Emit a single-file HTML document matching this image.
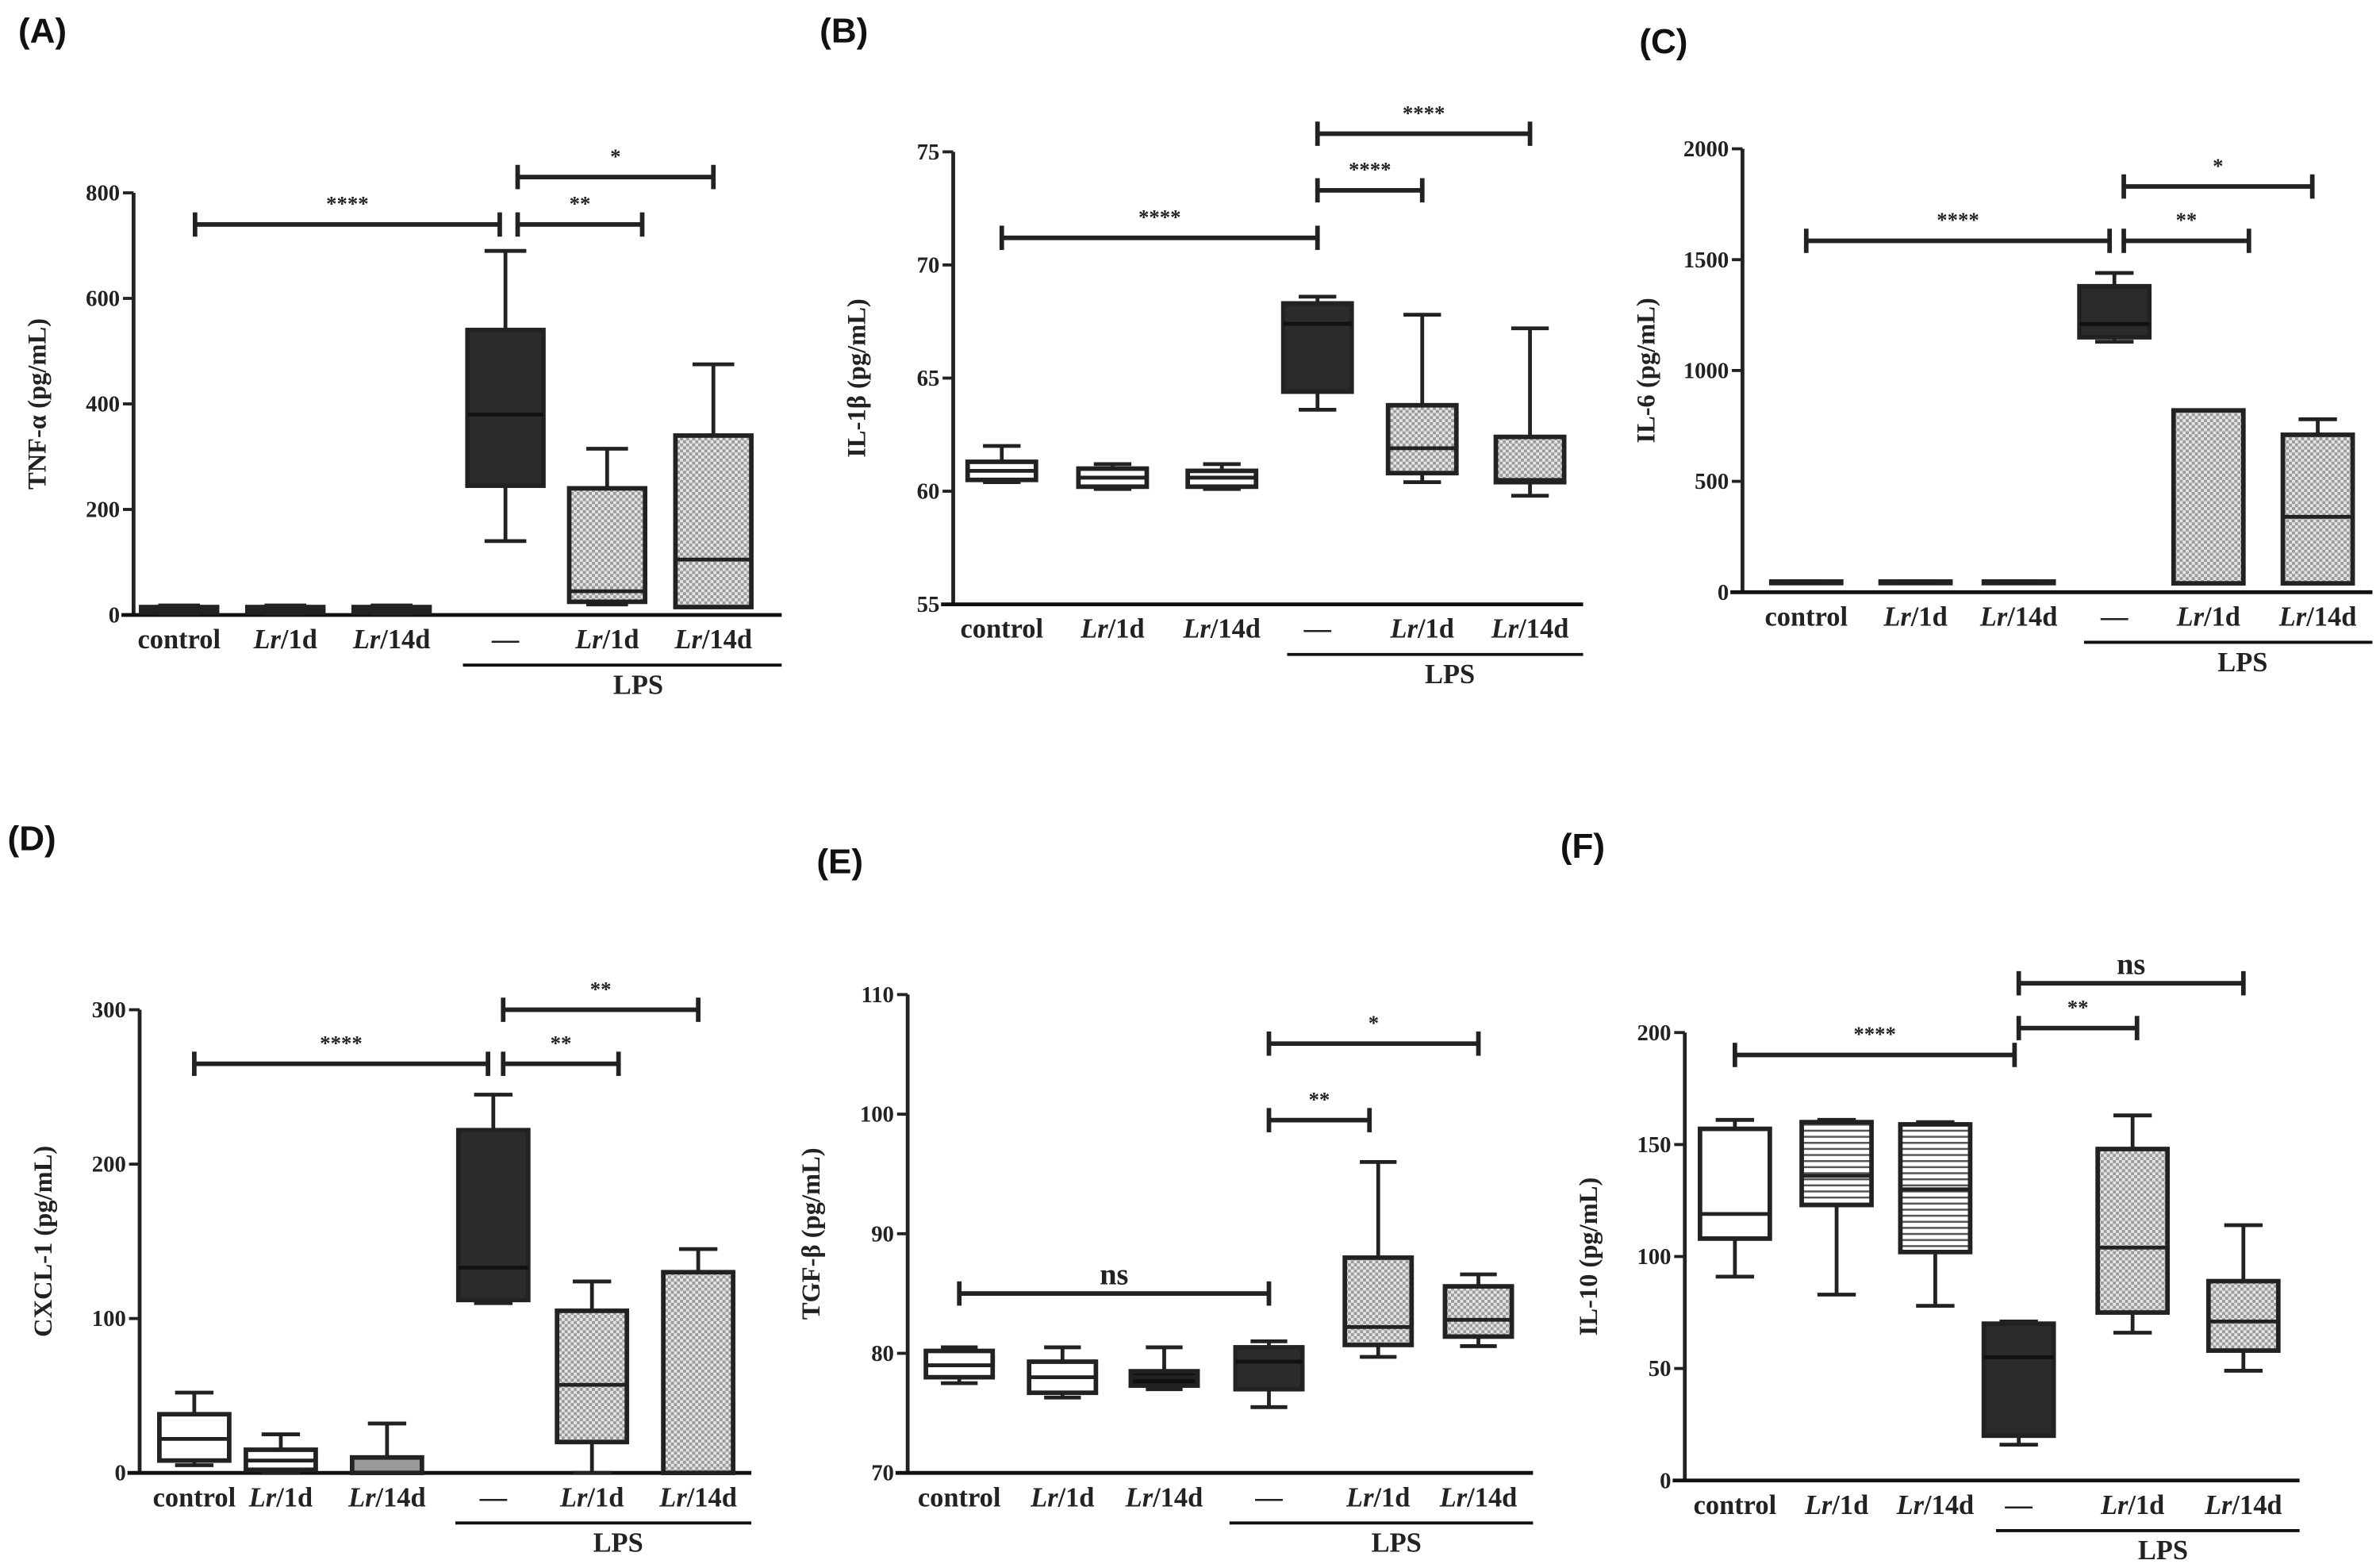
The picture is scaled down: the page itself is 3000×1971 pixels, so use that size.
<!DOCTYPE html>
<html><head><meta charset="utf-8"><style>
html,body{margin:0;padding:0;background:#fff;}
svg{display:block;}
text{font-family:"Liberation Serif",serif;font-weight:bold;fill:#222;}
.pl{font-family:"Liberation Sans",sans-serif;font-size:23px;fill:#111;}
</style></head><body>
<svg id="fig" width="3000" height="1971" viewBox="0 0 1568 1030" preserveAspectRatio="none" xmlns="http://www.w3.org/2000/svg">
<defs>
<pattern id="hatch" width="4" height="4" patternUnits="userSpaceOnUse">
<rect width="4" height="4" fill="#e4e4e4"/><rect width="2" height="2" fill="#9a9a9a"/><rect x="2" y="2" width="2" height="2" fill="#9a9a9a"/>
</pattern>
<pattern id="hlines" width="4" height="4" patternUnits="userSpaceOnUse">
<rect width="4" height="4" fill="#fff"/><rect y="0" width="4" height="1.3" fill="#555"/>
</pattern>
</defs>
</svg>
<script>
const categories = ["control","Lr/1d","Lr/14d","—","Lr/1d","Lr/14d"];
// Panel A TNF-a
const aMin=[3,3,3,140,20,15], aQ1=[5,5,5,245,25,15], aMed=[10,10,10,380,45,105], aQ3=[15,15,15,540,240,340], aMax=[18,18,18,690,315,475];
const aTicks=[0,200,400,600,800];
// Panel B IL-1b
const bMin=[60.4,60.1,60.1,63.6,60.4,59.8], bQ1=[60.5,60.2,60.2,64.4,60.8,60.4], bMed=[60.9,60.6,60.6,67.4,61.9,60.5], bQ3=[61.3,61.0,60.9,68.3,63.8,62.4], bMax=[62.0,61.2,61.2,68.6,67.8,67.2];
const bTicks=[55,60,65,70,75];
// Panel C IL-6
const cMin=[40,40,40,1130,40,40], cQ1=[42,42,42,1150,40,40], cMed=[45,45,45,1210,40,340], cQ3=[48,48,48,1380,820,710], cMax=[50,50,50,1440,820,780];
const cTicks=[0,500,1000,1500,2000];
// Panel D CXCL-1
const dMin=[5,0,0,110,0,0], dQ1=[8,2,0,112,20,0], dMed=[22,8,0,133,57,0], dQ3=[38,15,10,222,105,130], dMax=[52,25,32,245,124,145];
const dTicks=[0,100,200,300];
// Panel E TGF-b
const eMin=[77.5,76.3,77.0,75.5,79.7,80.6], eQ1=[78.0,76.7,77.3,77.0,80.7,81.4], eMed=[79.0,78.0,78.0,79.3,82.2,82.8], eQ3=[80.2,79.3,78.5,80.5,88.0,85.6], eMax=[80.5,80.5,80.5,81.0,96.0,86.6];
const eTicks=[70,80,90,100,110];
// Panel F IL-10
const fMin=[91,83,78,16,66,49], fQ1=[108,123,102,20,75,58], fMed=[119,136,130,55,104,71], fQ3=[157,160,159,70,148,89], fMax=[161,161,160,71,163,114];
const fTicks=[0,50,100,150,200];
// brackets: [fromIndex,toIndex,value,label]
const aBr=[[0.15,2.95,740,"****"],[3.12,4.33,740,"**"],[3.12,5.14,830,"*"]];
const bBr=[[0,3,71.2,"****"],[3,4,73.3,"****"],[3,5,75.8,"****"]];
const cBr=[[0,2.95,1585,"****"],[3.1,4.37,1585,"**"],[3.1,4.95,1830,"*"]];
const dBr=[[0,2.95,265,"****"],[3.1,4.25,265,"**"],[3.1,5.0,300,"**"]];
const eBr=[[0,3,85.0,"ns"],[3,3.92,99.5,"**"],[3,5,105.9,"*"]];
const fBr=[[0,2.95,190,"****"],[3,4.04,202,"**"],[3,5,222,"ns"]];

const panels=[
 {id:"a",letter:"(A)",lx:12,ly:28,title:"TNF-α (pg/mL)",ax:88,ymin:0,ymax:800,y0:405,y1:127,cx:[118,188,258,333,400,470],bw:50,xr:515,lps:[305,515],ticks:aTicks,min:aMin,q1:aQ1,med:aMed,q3:aQ3,max:aMax,br:aBr,fills:["#111","#111","#111","#2b2b2b","url(#hatch)","url(#hatch)"]},
 {id:"b",letter:"(B)",lx:540,ly:28,title:"IL-1β (pg/mL)",ax:628,ymin:55,ymax:75,y0:398,y1:100,cx:[660,733,805,868,937,1008],bw:45,xr:1043,lps:[848,1043],ticks:bTicks,min:bMin,q1:bQ1,med:bMed,q3:bQ3,max:bMax,br:bBr,fills:["#fff","#fff","#fff","#2b2b2b","url(#hatch)","url(#hatch)"]},
 {id:"c",letter:"(C)",lx:1080,ly:35,title:"IL-6 (pg/mL)",ax:1148,ymin:0,ymax:2000,y0:390,y1:98,cx:[1190,1262,1330,1393,1455,1527],bw:46,xr:1563,lps:[1373,1563],ticks:cTicks,min:cMin,q1:cQ1,med:cMed,q3:cQ3,max:cMax,br:cBr,fills:["#888","#888","#888","#2b2b2b","url(#hatch)","url(#hatch)"]},
 {id:"d",letter:"(D)",lx:5,ly:560,title:"CXCL-1 (pg/mL)",ax:92,ymin:0,ymax:300,y0:970,y1:665,cx:[128,185,255,325,390,460],bw:46,xr:495,lps:[300,495],ticks:dTicks,min:dMin,q1:dQ1,med:dMed,q3:dQ3,max:dMax,br:dBr,fills:["#fff","#fff","#999","#2b2b2b","url(#hatch)","url(#hatch)"]},
 {id:"e",letter:"(E)",lx:538,ly:575,title:"TGF-β (pg/mL)",ax:598,ymin:70,ymax:110,y0:970,y1:655,cx:[632,700,767,836,908,974],bw:44,xr:1010,lps:[810,1010],ticks:eTicks,min:eMin,q1:eQ1,med:eMed,q3:eQ3,max:eMax,br:eBr,fills:["#fff","#fff","#111","#2b2b2b","url(#hatch)","url(#hatch)"]},
 {id:"f",letter:"(F)",lx:1028,ly:565,title:"IL-10 (pg/mL)",ax:1110,ymin:0,ymax:200,y0:975,y1:680,cx:[1143,1210,1275,1330,1405,1478],bw:46,xr:1515,lps:[1315,1515],ticks:fTicks,min:fMin,q1:fQ1,med:fMed,q3:fQ3,max:fMax,br:fBr,fills:["#fff","url(#hlines)","url(#hlines)","#2b2b2b","url(#hatch)","url(#hatch)"]}
];
const NS="http://www.w3.org/2000/svg";
const svg=document.getElementById("fig");
function mk(tag,attrs,parent,txt){const e=document.createElementNS(NS,tag);for(const k in attrs)e.setAttribute(k,attrs[k]);if(txt!==undefined)e.textContent=txt;(parent||svg).appendChild(e);return e;}
panels.forEach(p=>{
 const g=mk("g",{});
 
 
 const ys=v=>p.y0+(v-p.ymin)/(p.ymax-p.ymin)*(p.y1-p.y0);
 const xs=i=>{const a=Math.floor(i),f=i-a;return a+1<p.cx.length?p.cx[a]+f*(p.cx[a+1]-p.cx[a]):p.cx[a];};
 const pl=mk("text",{x:p.lx,y:p.ly,class:"pl"},g,p.letter);
 
 
 const ya=mk("line",{x1:p.ax,y1:p.y0,x2:p.ax,y2:p.y1,stroke:"#222","stroke-width":2.5},g);
 
 
 p.ticks.forEach(t=>{
  mk("line",{x1:p.ax-7,x2:p.ax,y1:ys(t),y2:ys(t),stroke:"#222","stroke-width":2},g);
  const tl=mk("text",{x:p.ax-9,y:ys(t)+5,"text-anchor":"end","font-size":15,fill:"#555"},g,t);
  
  
 });
 const yt=mk("text",{transform:`translate(${p.ax-58},${(p.y0+p.y1)/2}) rotate(-90)`,"text-anchor":"middle","font-size":17,fill:"#333"},g,p.title);
 
 
 const xa=mk("line",{x1:p.ax-8,y1:p.y0,x2:p.xr,y2:p.y0,stroke:"#111","stroke-width":2.5},g);
 
 
 categories.forEach((c,i)=>{
  const x=p.cx[i],hw=p.bw/2;
  const bx=mk("g",{},g);
  
  
  const sw=2.5;
  mk("line",{x1:x,x2:x,y1:ys(p.max[i]),y2:ys(p.min[i]),stroke:"#222","stroke-width":sw},bx);
  mk("line",{x1:x-hw*0.55,x2:x+hw*0.55,y1:ys(p.max[i]),y2:ys(p.max[i]),stroke:"#222","stroke-width":sw},bx);
  mk("line",{x1:x-hw*0.55,x2:x+hw*0.55,y1:ys(p.min[i]),y2:ys(p.min[i]),stroke:"#222","stroke-width":sw},bx);
  const top=ys(p.q3[i]),bot=ys(p.q1[i]);
  mk("rect",{x:x-hw,y:top,width:p.bw,height:Math.max(bot-top,1),fill:p.fills[i],stroke:"#222","stroke-width":3},bx);
  mk("line",{x1:x-hw,x2:x+hw,y1:ys(p.med[i]),y2:ys(p.med[i]),stroke:i===3?"#111":"#222","stroke-width":2.5},bx);
  const lab=mk("text",{x:x,y:p.y0+22,"text-anchor":"middle","font-size":18},g);
  
  
  if(c.startsWith("Lr")){mk("tspan",{"font-style":"italic"},lab,"Lr");mk("tspan",{},lab,c.slice(2));}
  else if(c==="—"){lab.textContent="—";}
  else lab.textContent=c;
 });
 const ll=mk("line",{x1:p.lps[0],x2:p.lps[1],y1:p.y0+33,y2:p.y0+33,stroke:"#111","stroke-width":2},g);
 
 
 const lt=mk("text",{x:(p.lps[0]+p.lps[1])/2+(p.lps[1]-p.lps[0])*0.05,y:p.y0+52,"text-anchor":"middle","font-size":18},g,"LPS");
 
 
 p.br.forEach(b=>{
  const x1=xs(b[0]),x2=xs(b[1]),y=ys(b[2]);
  const bg=mk("g",{},g);
  
  
  mk("line",{x1:x1,x2:x2,y1:y,y2:y,stroke:"#222","stroke-width":3},bg);
  mk("line",{x1:x1,x2:x1,y1:y-8,y2:y+8,stroke:"#222","stroke-width":3},bg);
  mk("line",{x1:x2,x2:x2,y1:y-8,y2:y+8,stroke:"#222","stroke-width":3},bg);
  const isNs=b[3]==="ns";
  mk("text",{x:(x1+x2)/2,y:isNs?y-6:y-9,"text-anchor":"middle","font-size":isNs?20:14,"font-family":"Liberation Sans,sans-serif","font-weight":isNs?"normal":"bold",fill:"#333"},bg,b[3]);
 });
});
</script>
</body></html>
